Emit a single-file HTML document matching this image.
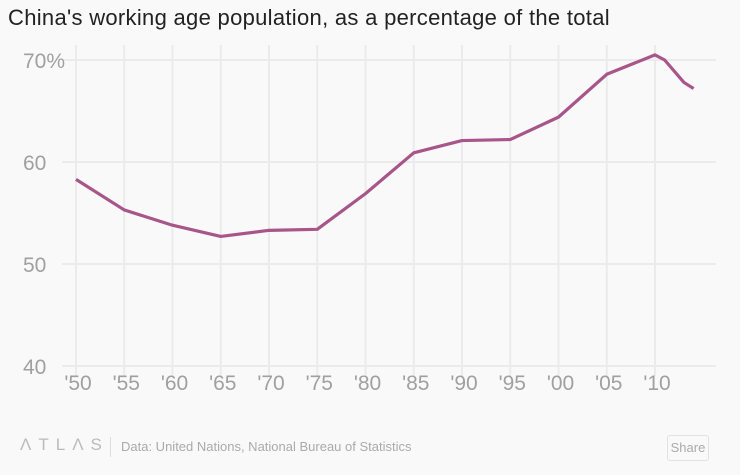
<!DOCTYPE html>
<html><head><meta charset="utf-8"><style>
body{margin:0;background:#f9f9f9;font-family:"Liberation Sans",sans-serif;}
#wrap{position:relative;width:740px;height:475px;overflow:hidden;background:#f9f9f9;}
h1{position:absolute;left:8px;top:5px;margin:0;font-size:22px;font-weight:normal;color:#222;letter-spacing:0.3px;}
.foot{position:absolute;top:439px;font-size:13px;color:#aaa;}
</style></head><body>
<div id="wrap">
<h1>China's working age population, as a percentage of the total</h1>
<svg id="c" width="740" height="475" style="position:absolute;left:0;top:0"></svg>
<div class="foot" style="left:20px;letter-spacing:7px;font-size:17px;top:435px;color:#bbb">ΛTLΛS</div>
<div style="position:absolute;left:110px;top:437px;width:1px;height:20px;background:#ddd"></div>
<div class="foot" style="left:121px">Data: United Nations, National Bureau of Statistics</div>
<div style="position:absolute;left:667px;top:435px;width:40px;height:24px;border:1px solid #e2e2e2;border-radius:3px;font-size:13px;color:#aaa;text-align:center;line-height:24px">Share</div>
</div>
<script>
const years=[1950,1955,1960,1965,1970,1975,1980,1985,1990,1995,2000,2005,2010,2011,2013,2014];
const values=[58.3,55.3,53.8,52.7,53.3,53.4,56.9,60.9,62.1,62.2,64.4,68.6,70.5,70.0,67.8,67.2];
const yTicks=[40,50,60,70];
const xTickYears=[1950,1955,1960,1965,1970,1975,1980,1985,1990,1995,2000,2005,2010];
const xTickLabels=["'50","'55","'60","'65","'70","'75","'80","'85","'90","'95","'00","'05","'10"];
const ns="http://www.w3.org/2000/svg",svg=document.getElementById('c');
const x=v=>76+(v-1950)*(655-76)/60;
const y=v=>60+(70-v)*10.2;
function mk(t,a){const e=document.createElementNS(ns,t);for(const k in a)e.setAttribute(k,a[k]);svg.appendChild(e);return e;}
yTicks.forEach(t=>{
 const l=mk('line',{x1:62,x2:716,y1:y(t),y2:y(t),stroke:'#ebebeb','stroke-width':2});
 
 
});
xTickYears.forEach((t,i)=>{
 const l=mk('line',{x1:x(t),x2:x(t),y1:45,y2:376,stroke:'#ebebeb','stroke-width':2});
 
 
 const tx=mk('text',{x:x(t)+2,y:390,'text-anchor':'middle','font-size':21,fill:'#a0a0a0','font-family':'Liberation Sans, sans-serif'});
 tx.textContent=xTickLabels[i];
 
 
});
yTicks.forEach(t=>{
 const tx=mk('text',{x:23,y:y(t)+8,'font-size':21,fill:'#a0a0a0','font-family':'Liberation Sans, sans-serif'});
 tx.textContent=t===70?'70%':String(t);
 
 
});
const p=mk('path',{d:years.map((yr,i)=>(i?'L':'M')+x(yr)+','+y(values[i])).join(''),fill:'none',stroke:'#a85689','stroke-width':3.2,'stroke-linejoin':'round'});


</script>
</body></html>
